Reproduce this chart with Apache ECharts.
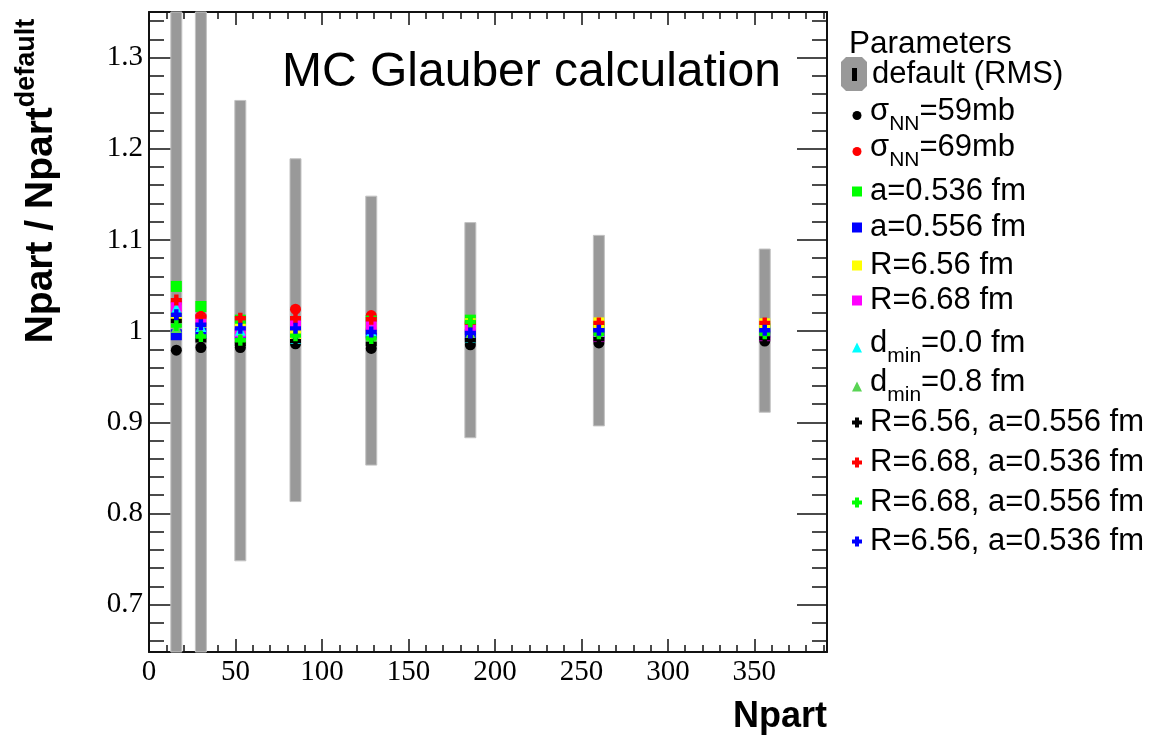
<!DOCTYPE html>
<html>
<head>
<meta charset="utf-8">
<script src="https://cdn.jsdelivr.net/npm/echarts@6/dist/echarts.min.js"></script>
<style>
  html, body { margin: 0; padding: 0; background: #fff; }
  #chart { width: 1158px; height: 739px; }
</style>
</head>
<body>
<div id="chart"></div>
<script>
// centrality classes (Npart of default setting)
const npart = [15.8, 30.0, 52.8, 84.7, 128.5, 185.8, 260.1, 356.0];
// default RMS band (ratio)
const rmsLow  = [0.45, 0.60, 0.748, 0.813, 0.853, 0.883, 0.896, 0.911];
const rmsHigh = [1.55, 1.40, 1.253, 1.189, 1.148, 1.119, 1.105, 1.090];

const sigma59   = [0.979, 0.982, 0.982, 0.986, 0.981, 0.985, 0.987, 0.989];
const sigma69   = [1.031, 1.016, 1.010, 1.024, 1.017, 1.008, 1.006, 1.006];
const a536      = [1.049, 1.027, 1.012, 1.010, 1.011, 1.012, 1.004, 1.003];
const a556      = [0.996, 0.998, 0.997, 0.999, 0.998, 0.996, 0.998, 0.999];
const r656      = [1.015, 1.010, 1.002, 0.996, 1.004, 1.008, 1.009, 1.008];
const r668      = [1.027, 1.012, 0.999, 1.008, 1.006, 1.004, 0.994, 0.995];
const dmin00    = [1.025, 1.005, 1.001, 0.992, 1.000, 0.993, 0.998, 0.997];
const dmin08    = [1.004, 0.997, 0.993, 0.995, 0.994, 0.997, 0.997, 0.997];
const r656a556  = [1.011, 0.990, 0.986, 0.989, 0.986, 0.990, 0.991, 0.992];
const r668a536  = [1.034, 1.016, 1.014, 1.014, 1.013, 1.009, 1.009, 1.009];
const r668a556  = [1.006, 0.994, 0.990, 0.995, 0.992, 1.010, 0.997, 0.997];
const r656a536  = [1.018, 1.007, 1.003, 1.003, 0.999, 0.998, 1.001, 1.001];

// axis ticks
const xMajorTicks = [0, 50, 100, 150, 200, 250, 300, 350];
const xMinorTicks = [10, 20, 30, 40, 60, 70, 80, 90, 110, 120, 130, 140, 160, 170, 180, 190,
  210, 220, 230, 240, 260, 270, 280, 290, 310, 320, 330, 340, 360, 370, 380, 390];
const yMajorTicks = [0.7, 0.8, 0.9, 1.0, 1.1, 1.2, 1.3];
const yMinorTicks = [0.66, 0.68, 0.72, 0.74, 0.76, 0.78, 0.82, 0.84, 0.86, 0.88, 0.92, 0.94,
  0.96, 0.98, 1.02, 1.04, 1.06, 1.08, 1.12, 1.14, 1.16, 1.18, 1.22, 1.24, 1.26, 1.28, 1.32, 1.34];

const X_MIN = 0, X_MAX = 392, Y_MIN = 0.648, Y_MAX = 1.35;

const CROSS = 'path://M3,0H7V3H10V7H7V10H3V7H0V3H3Z';
const SANS = 'Liberation Sans';
const SERIF = 'Liberation Serif';

// name, values, symbol, colour, legend label (rich)
const params = [
  ['σNN=59mb', sigma59, 'circle', '#000000', '{m|σ}{s|NN}{m|=59mb}'],
  ['σNN=69mb', sigma69, 'circle', '#ff0000', '{m|σ}{s|NN}{m|=69mb}'],
  ['a=0.536 fm', a536, 'rect', '#00ff00', '{m|a=0.536 fm}'],
  ['a=0.556 fm', a556, 'rect', '#0000ff', '{m|a=0.556 fm}'],
  ['R=6.56 fm', r656, 'rect', '#ffff00', '{m|R=6.56 fm}'],
  ['R=6.68 fm', r668, 'rect', '#ff00ff', '{m|R=6.68 fm}'],
  ['dmin=0.0 fm', dmin00, 'triangle', '#00ffff', '{m|d}{s|min}{m|=0.0 fm}'],
  ['dmin=0.8 fm', dmin08, 'triangle', '#59d454', '{m|d}{s|min}{m|=0.8 fm}'],
  ['R=6.56, a=0.556 fm', r656a556, CROSS, '#000000', '{m|R=6.56, a=0.556 fm}'],
  ['R=6.68, a=0.536 fm', r668a536, CROSS, '#ff0000', '{m|R=6.68, a=0.536 fm}'],
  ['R=6.68, a=0.556 fm', r668a556, CROSS, '#00ff00', '{m|R=6.68, a=0.556 fm}'],
  ['R=6.56, a=0.536 fm', r656a536, CROSS, '#0000ff', '{m|R=6.56, a=0.536 fm}'],
];
// legend row tops
const rowTops = [96, 132, 176, 212, 250, 285, 328, 367, 407, 447, 487, 526];

const labelOf = {};
params.forEach(p => { labelOf[p[0]] = p[4]; });
labelOf['default (RMS)'] = '{m|default (RMS)}';

const richLegend = {
  m: { fontSize: 31, fontFamily: SANS, color: '#000', verticalAlign: 'top' },
  s: { fontSize: 21, fontFamily: SANS, color: '#000', verticalAlign: 'bottom', padding: [18, 0, 0, 0] }
};

const defIcon = 'image://data:image/svg+xml;charset=utf-8,' + encodeURIComponent(
  '<svg xmlns="http://www.w3.org/2000/svg" width="26" height="34">' +
  '<path d="M5 0H21L26 5V29L21 34H5L0 29V5Z" fill="#999999"/>' +
  '<rect x="11" y="11" width="5" height="13" fill="#000000"/></svg>');

function legendFor(name, top, left, size, icon, textPad) {
  const item = { name: name };
  if (icon) item.icon = icon;
  return {
    data: [item],
    top: top,
    left: left,
    orient: 'vertical',
    padding: 0,
    itemWidth: size[0],
    itemHeight: size[1],
    selectedMode: false,
    formatter: n => labelOf[n],
    textStyle: { fontSize: 31, fontFamily: SANS, color: '#000', rich: richLegend, padding: [0, 0, 0, textPad] }
  };
}

const legends = [legendFor('default (RMS)', 57, 841, [26, 34], defIcon, 0)];
params.forEach((p, i) => {
  const sz = p[2] === 'circle' ? 9 : 10;
  legends.push(legendFor(p[0], rowTops[i], 857 - sz / 2, [sz, sz], null, 3 + (10 - sz) / 2));
});

const frameLine = { show: true, onZero: false, lineStyle: { color: '#111', width: 2 } };
const noLine = { show: false, onZero: false };
const tickStyle = { color: '#111', width: 1.5 };
const gridBox = { left: 149, right: 331, top: 12, bottom: 87, containLabel: false, outerBoundsMode: 'none' };

function xAx(grid, pos, ticks, len, line, extra) {
  return Object.assign({
    type: 'value', gridIndex: grid, min: X_MIN, max: X_MAX, position: pos,
    axisLine: line ? frameLine : noLine, splitLine: { show: false },
    axisTick: { inside: true, length: len, customValues: ticks, lineStyle: tickStyle },
    axisLabel: { show: false }
  }, extra || {});
}
function yAx(grid, pos, ticks, len, line, extra) {
  return Object.assign({
    type: 'value', gridIndex: grid, min: Y_MIN, max: Y_MAX, position: pos,
    axisLine: line ? frameLine : noLine, splitLine: { show: false },
    axisTick: { inside: true, length: len, customValues: ticks, lineStyle: tickStyle },
    axisLabel: { show: false }
  }, extra || {});
}

const chart = echarts.init(document.getElementById('chart'));
chart.setOption({
  animation: false,
  backgroundColor: '#fff',
  title: [
    { text: 'MC Glauber calculation', left: 282, top: 49, padding: 0,
      textStyle: { fontSize: 48, fontWeight: 'normal', fontFamily: SANS, color: '#000' } },
    { text: 'Parameters', left: 849, top: 28, padding: 0,
      textStyle: { fontSize: 31.5, fontWeight: 'normal', fontFamily: SANS, color: '#000' } }
  ],
  legend: legends,
  grid: [gridBox, gridBox, gridBox, gridBox],
  xAxis: [
    xAx(0, 'bottom', xMajorTicks, 13, true, {
      axisLabel: { customValues: xMajorTicks, margin: 6, fontSize: 29, fontFamily: SERIF, color: '#000' },
      name: 'Npart', nameLocation: 'end', nameGap: 0, nameMoveOverlap: false,
      nameTextStyle: { fontSize: 36, fontWeight: 'bold', fontFamily: SANS, color: '#000',
        align: 'right', verticalAlign: 'top', padding: [47, 0, 0, 0] }
    }),
    xAx(1, 'bottom', xMinorTicks, 7, false),
    xAx(2, 'top', xMajorTicks, 13, true),
    xAx(3, 'top', xMinorTicks, 7, false)
  ],
  yAxis: [
    yAx(0, 'left', yMajorTicks, 30, true, {
      axisLabel: { customValues: yMajorTicks, margin: 6, fontSize: 29, fontFamily: SERIF, color: '#000' },
      name: '{m|Npart / Npart}{sup|default}', nameLocation: 'middle', nameRotate: 90, nameGap: 88,
      nameMoveOverlap: false,
      nameTextStyle: {
        padding: [0, 0, 0, 302],
        rich: {
          m: { fontSize: 39, fontWeight: 'bold', fontFamily: SANS, color: '#000', verticalAlign: 'bottom', padding: [9, 0, 0, 0] },
          sup: { fontSize: 27, fontWeight: 'bold', fontFamily: SANS, color: '#000', verticalAlign: 'top' }
        }
      }
    }),
    yAx(1, 'left', yMinorTicks, 15, false),
    yAx(2, 'right', yMajorTicks, 30, true),
    yAx(3, 'right', yMinorTicks, 15, false)
  ],
  series: [
    {
      name: 'default (RMS)',
      type: 'custom',
      xAxisIndex: 0,
      yAxisIndex: 0,
      data: npart.map((x, i) => [x, rmsLow[i], rmsHigh[i]]),
      encode: { x: 0, y: [1, 2] },
      itemStyle: { color: '#999999' },
      renderItem: function (p, api) {
        const x = api.value(0);
        const hi = api.coord([x, api.value(2)]);
        const lo = api.coord([x, api.value(1)]);
        const w = 11;
        const cs = p.coordSys;
        const rect = echarts.graphic.clipRectByRect(
          { x: hi[0] - w / 2, y: hi[1], width: w, height: lo[1] - hi[1] },
          { x: cs.x, y: cs.y, width: cs.width, height: cs.height });
        if (!rect) return null;
        return { type: 'rect', shape: rect, style: { fill: '#999999', stroke: '#c2c2c2', lineWidth: 1 } };
      }
    },
    ...params.map(p => ({
      name: p[0],
      type: 'scatter',
      xAxisIndex: 0,
      yAxisIndex: 0,
      data: npart.map((x, i) => [x, p[1][i]]),
      symbol: p[2],
      symbolSize: 11,
      symbolKeepAspect: true,
      itemStyle: { color: p[3], opacity: 1 },
      emphasis: { disabled: true }
    }))
  ]
});
</script>
</body>
</html>
